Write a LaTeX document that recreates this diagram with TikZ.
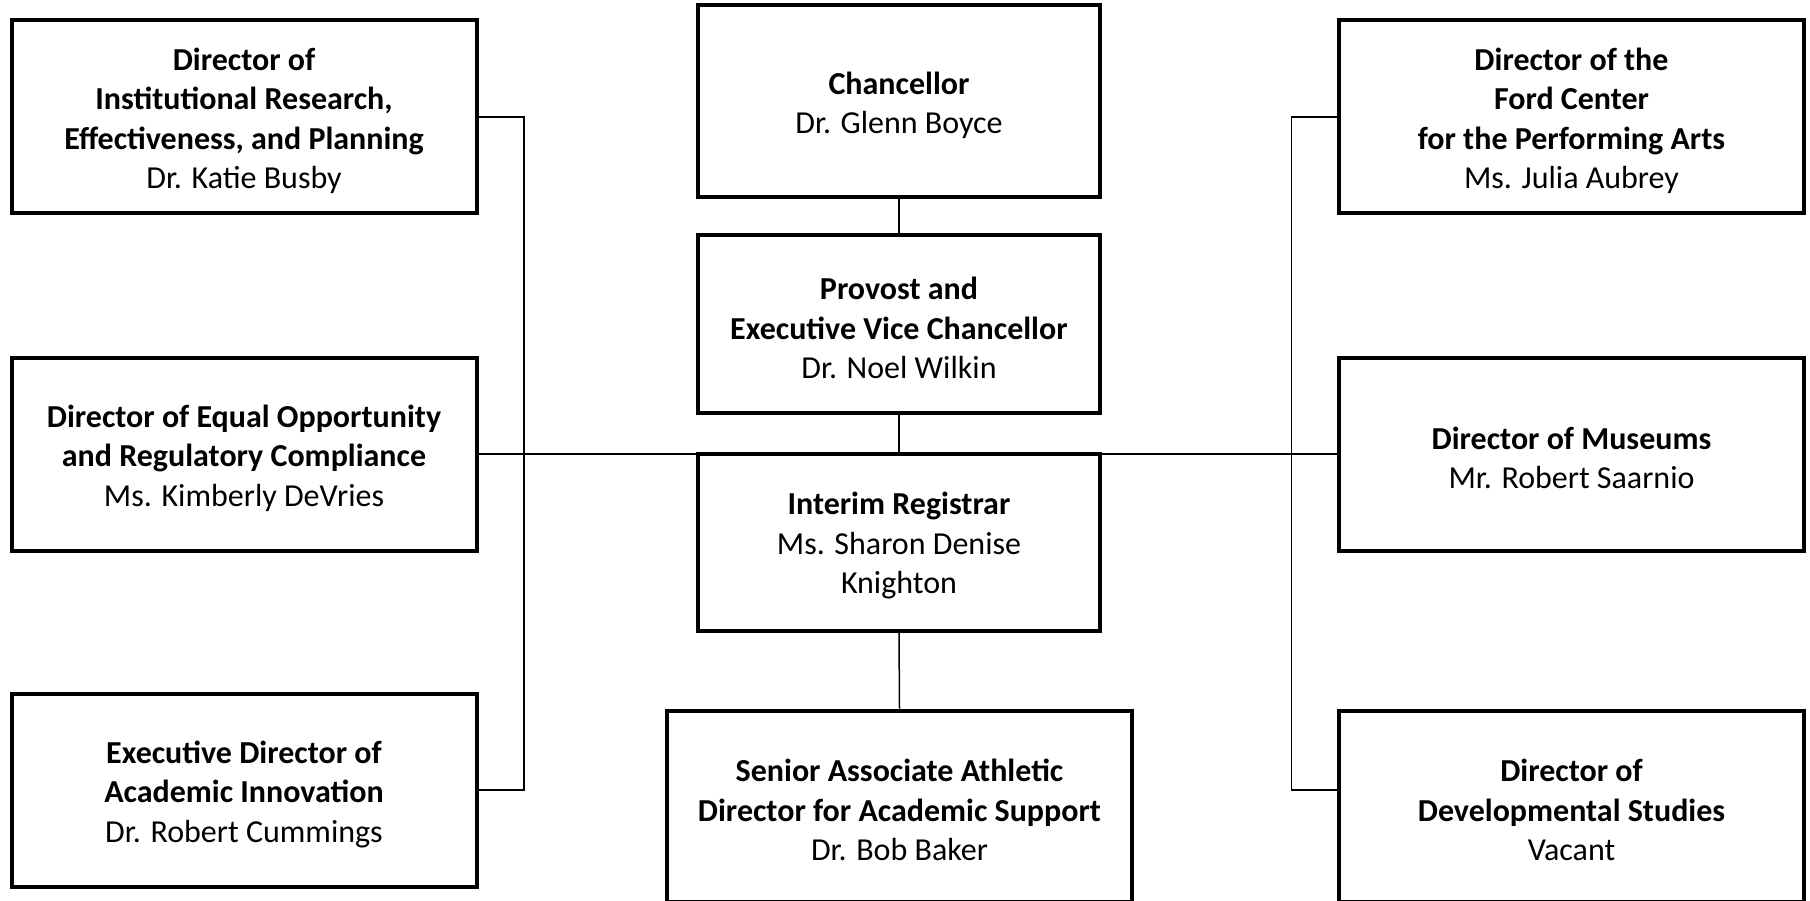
\documentclass[tikz,border=0pt]{standalone}
\usepackage{fontspec}
\setmainfont{Carlito}
\begin{document}
\begin{tikzpicture}[x=1pt,y=-1pt,
  txt/.style={align=center, inner sep=0pt, font=\fontsize{32}{39.5}\selectfont, yshift=-4pt},
  box/.style={draw, line width=4pt, inner sep=0pt, minimum width=465pt, minimum height=193pt},
  cbox/.style={box, minimum width=402pt},
  conn/.style={line width=1.5pt}]
\useasboundingbox (0,0) rectangle (1810,901);
\node[box, label={[txt]center:{\textbf{Director of}\\\textbf{Institutional Research,}\\\textbf{Effectiveness, and Planning}\\Dr. Katie Busby}}] (tl) at (244,117) {};
\node[box, label={[txt]center:{\textbf{Director of Equal Opportunity}\\\textbf{and Regulatory Compliance}\\Ms. Kimberly DeVries}}] (ml) at (244,454) {};
\node[box, label={[txt]center:{\textbf{Executive Director of}\\\textbf{Academic Innovation}\\Dr. Robert Cummings}}] (bl) at (244,790) {};
\node[cbox, minimum height=192pt, label={[txt]center:{\textbf{Chancellor}\\Dr. Glenn Boyce}}] (chan) at (899,101.5) {};
\node[cbox, minimum height=177pt, label={[txt]center:{\textbf{Provost and}\\\textbf{Executive Vice Chancellor}\\Dr. Noel Wilkin}}] (prov) at (899,324) {};
\node[cbox, minimum height=177pt, label={[txt]center:{\textbf{Interim Registrar}\\Ms. Sharon Denise\\Knighton}}] (reg) at (899,542) {};
\node[box, minimum height=191pt, label={[txt]center:{\textbf{Senior Associate Athletic}\\\textbf{Director for Academic Support}\\Dr. Bob Baker}}] (sen) at (899.5,806) {};
\node[box, label={[txt]center:{\textbf{Director of the}\\\textbf{Ford Center}\\\textbf{for the Performing Arts}\\Ms. Julia Aubrey}}] (tr) at (1571.5,117) {};
\node[box, label={[txt]center:{\textbf{Director of Museums}\\Mr. Robert Saarnio}}] (mr) at (1571.5,454) {};
\node[box, minimum height=191pt, label={[txt]center:{\textbf{Director of}\\\textbf{Developmental Studies}\\Vacant}}] (br) at (1571.5,806) {};
\coordinate (lb1) at (524,117);
\coordinate (lb2) at (524,790);
\coordinate (rb1) at (1291.5,117);
\coordinate (rb2) at (1291.5,790);
\coordinate (brw) at (1339,790);
\draw[conn] (chan.south) -- (prov.north);
\draw[conn] (prov.south) -- (reg.north);
\draw[conn] (reg.south) -- (sen.north);
\draw[conn] (ml.east) -- (mr.west);
\draw[conn] (tl.east) -- (lb1) -- (lb2) -- (bl.east);
\draw[conn] (tr.west) -- (rb1) -- (rb2) -- (brw);
\end{tikzpicture}
\end{document}
